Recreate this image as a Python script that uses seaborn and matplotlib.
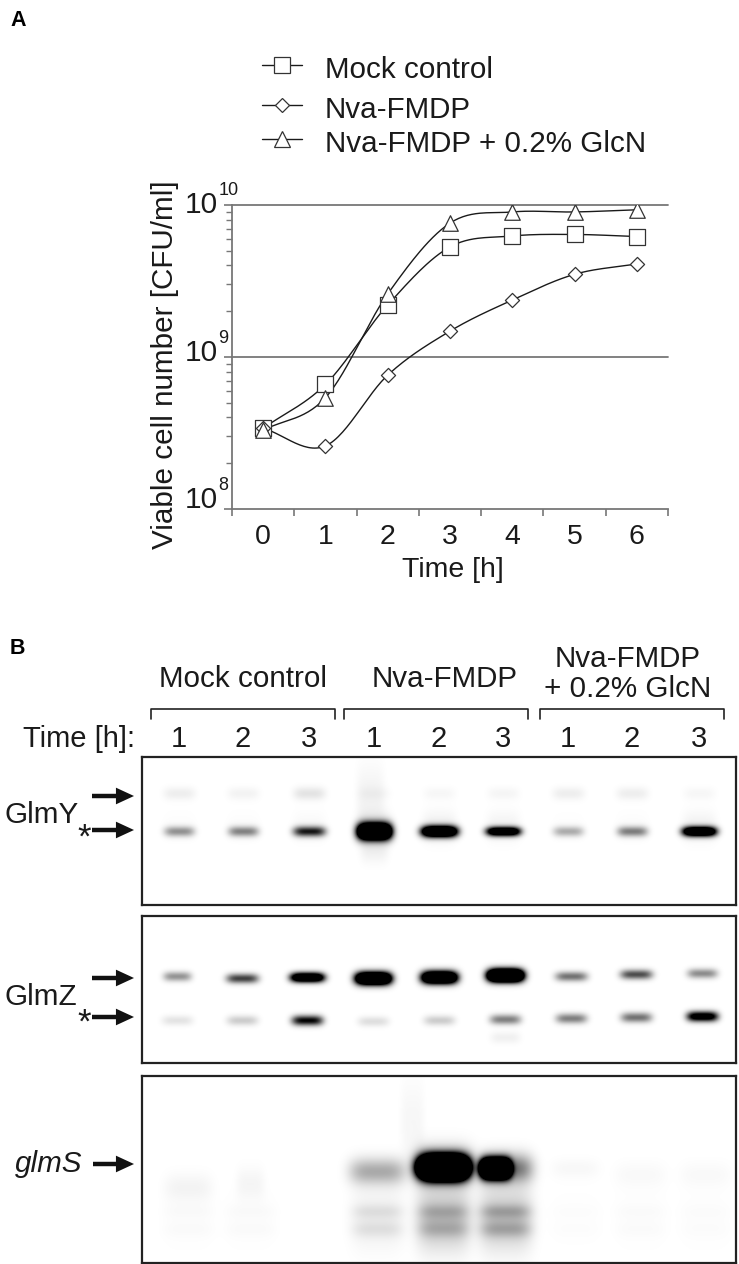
import numpy as np
import pandas as pd
import matplotlib
matplotlib.use("Agg")
import matplotlib.pyplot as plt
from matplotlib.lines import Line2D
from matplotlib.patches import FancyArrowPatch
from matplotlib.ticker import LogLocator, NullFormatter, FixedLocator
import seaborn as sns

# ---------- data: growth curves ----------
hours = [0, 1, 2, 3, 4, 5, 6]
mock_control = [3.4e8, 6.6e8, 2.2e9, 5.3e9, 6.25e9, 6.4e9, 6.2e9]
nva_fmdp = [3.4e8, 2.6e8, 7.6e8, 1.48e9, 2.37e9, 3.5e9, 4.1e9]
nva_glcn = [3.3e8, 5.4e8, 2.6e9, 7.6e9, 9.0e9, 9.0e9, 9.3e9]
series_names = ["Mock control", "Nva-FMDP", "Nva-FMDP + 0.2% GlcN"]

# ---------- data: blot band intensities per lane ----------
glmy_upper = [.07, .05, .11, .03, .035, .04, .07, .07, .035]
glmy_main = [.42, .48, .9, 3.0, 2.2, 1.7, .32, .5, 1.9]
glmz_upper = [.42, .75, 1.8, 2.6, 2.4, 3.2, .55, .7, .45]
glmz_star = [.11, .2, 1.0, .13, .2, .5, .5, .55, 1.3]
glms_main = [.045, .04, 0, .33, 5, 4, .03, .025, .025]
glms_smear = [.012, .012, 0, .07, .27, .24, .008, .012, .012]
glms_sub = [.012, .012, 0, .07, .12, .17, .006, .01, .006]

W, H = 739, 1264
sns.set_theme(style="white")
plt.rcParams["font.family"] = ["Liberation Sans", "DejaVu Sans"]
fig = plt.figure(figsize=(W / 100, H / 100), dpi=100, facecolor="white")


def fx(x):
    return x / W


def fy(y):
    return 1 - y / H


def axes_px(x0, y0, x1, y1):
    return fig.add_axes([fx(x0), fy(y1), (x1 - x0) / W, (y1 - y0) / H])


def put(x, y, s, size=21.3, **kw):
    kw.setdefault("va", "baseline")
    kw.setdefault("color", "#1a1a1a")
    fig.text(fx(x), fy(y), s, fontsize=size, **kw)


def smooth(xs, ys, n=30):
    """Catmull-Rom curve through the measured points, in log space."""
    xs = np.asarray(xs, float)
    ly = np.log10(ys)
    m = np.gradient(ly, xs)
    out_x, out_y = [], []
    for i in range(len(xs) - 1):
        t = np.linspace(0, 1, n)
        h00 = 2 * t**3 - 3 * t**2 + 1
        h10 = t**3 - 2 * t**2 + t
        h01 = -2 * t**3 + 3 * t**2
        h11 = t**3 - t**2
        out_x.append(xs[i] + t * (xs[i + 1] - xs[i]))
        out_y.append(h00 * ly[i] + h10 * m[i] + h01 * ly[i + 1] + h11 * m[i + 1])
    return np.concatenate(out_x), 10 ** np.concatenate(out_y)


# ---------- panel A ----------
GREY = "#777777"
ax = axes_px(232, 205, 668, 509)
ax.set_facecolor("none")
frames = []
for name, vals in zip(series_names, [mock_control, nva_fmdp, nva_glcn]):
    cx, cy = smooth(hours, vals)
    frames.append(pd.DataFrame({"t": cx, "v": cy, "s": name}))
curve = pd.concat(frames)
points = pd.DataFrame({"t": hours * 3,
                       "v": mock_control + nva_fmdp + nva_glcn,
                       "s": np.repeat(series_names, len(hours))})

ax.set_yscale("log")
ax.set_ylim(1e8, 1e10)
ax.set_xlim(-0.5, 6.5)
for level in [1e9, 1e10]:
    ax.axhline(level, color=GREY, lw=1.3, zorder=1, clip_on=False)
sns.lineplot(data=curve, x="t", y="v", units="s", estimator=None, color="#1a1a1a",
             lw=1.0, ax=ax, zorder=2, legend=False, sort=False)
styles = {series_names[0]: ("s", 125), series_names[1]: ("D", 52), series_names[2]: ("^", 125)}
for name in series_names:
    mk, sz = styles[name]
    sns.scatterplot(data=points[points.s == name], x="t", y="v", marker=mk, s=sz,
                    facecolor="white", edgecolor="#333333", linewidth=0.9,
                    ax=ax, zorder=3, legend=False)

ax.set_xlabel("")
ax.set_ylabel("")
for s in ["top", "right"]:
    ax.spines[s].set_visible(False)
for s in ["left", "bottom"]:
    ax.spines[s].set_color(GREY)
    ax.spines[s].set_linewidth(1.3)
ax.xaxis.set_major_locator(FixedLocator(np.arange(-0.5, 7, 1)))
ax.xaxis.set_major_formatter(NullFormatter())
ax.xaxis.set_minor_locator(FixedLocator(hours))
ax.set_xticklabels([str(h) for h in hours], minor=True, fontsize=20.5, color="#1a1a1a")
ax.tick_params(axis="x", which="major", length=5, width=1.2, color=GREY, bottom=True)
ax.tick_params(axis="x", which="minor", length=0, pad=11)
ax.yaxis.set_major_locator(FixedLocator([1e8, 1e9, 1e10]))
ax.yaxis.set_major_formatter(NullFormatter())
ax.yaxis.set_minor_locator(LogLocator(base=10, subs=range(2, 10), numticks=5))
ax.yaxis.set_minor_formatter(NullFormatter())
ax.tick_params(axis="y", which="major", length=6, width=1.2, color=GREY, left=True)
ax.tick_params(axis="y", which="minor", length=4, width=1.0, color=GREY, left=True)

for base_y, exp in [(213, "10"), (361, "9"), (508, "8")]:
    put(218, base_y, "10", ha="right", size=21.5)
    put(218.5, base_y - 18, exp, ha="left", size=13)

ax.set_ylabel("Viable cell number [CFU/ml]", fontsize=21.3, color="#1a1a1a")
ax.yaxis.set_label_coords(fx(179), fy(365), transform=fig.transFigure)
ax.set_xlabel("Time [h]", fontsize=20.5, color="#1a1a1a")
ax.xaxis.set_label_coords(fx(453), fy(557), transform=fig.transFigure)

# legend rows are unevenly spaced in the reference, so each row is placed on its own
for name, row_y in zip(series_names, [67, 107, 141]):
    fig.add_artist(Line2D([fx(262), fx(302)], [fy(row_y - 2)] * 2, color="#1a1a1a", lw=1.0,
                          transform=fig.transFigure))
    fig.add_artist(Line2D([fx(282)], [fy(row_y - 2)], marker=styles[name][0],
                          ms=np.sqrt(styles[name][1]), mfc="white", mec="#333333", mew=0.9,
                          lw=0, transform=fig.transFigure))
    put(325, row_y + 11, name)

put(10, 26, "A", size=15.5, fontweight="bold", color="black")
put(10, 654, "B", size=15.5, fontweight="bold", color="black")

# ---------- panel B: labels ----------
put(243, 687, "Mock control", ha="center")
put(445, 687, "Nva-FMDP", ha="center")
put(628, 667, "Nva-FMDP", ha="center")
put(628, 697, "+ 0.2% GlcN", ha="center")
for x0, x1 in [(151, 335), (344, 528), (540, 724)]:
    fig.add_artist(Line2D([fx(x0), fx(x0), fx(x1), fx(x1)],
                          [fy(719), fy(709), fy(709), fy(719)],
                          color="#222222", lw=1.2, transform=fig.transFigure))
put(135, 747, "Time [h]:", ha="right", size=21)
lane_px = np.array([179, 243, 309, 374, 439, 503, 568, 632, 699])
lane_labels = ["1", "2", "3"] * 3
for x, t in zip(lane_px, lane_labels):
    put(x, 747, t, ha="center", size=21)


def arrow(x0, x1, y):
    fig.add_artist(FancyArrowPatch(
        (fx(x0), fy(y)), (fx(x1), fy(y)), transform=fig.transFigure,
        arrowstyle="simple,head_width=12,head_length=13,tail_width=3.2",
        mutation_scale=1, color="#111111", lw=0, shrinkA=0, shrinkB=0))


put(5, 823, "GlmY")
put(84, 848, "*", ha="center", size=25)
arrow(92, 134, 796)
arrow(92, 134, 830)
put(5, 1005, "GlmZ")
put(84, 1033, "*", ha="center", size=25)
arrow(92, 134, 978)
arrow(92, 134, 1017)
put(15, 1172, "glmS", style="italic")
arrow(93, 134, 1164)


# ---------- panel B: blots ----------
def band(shape, x0, y0, xc, yc, wx, wy, amp):
    yy, xx = np.mgrid[0:shape[0], 0:shape[1]]
    return amp * np.exp(-(((xx + x0 - xc) / wx) ** 4)) * np.exp(-(((yy + y0 - yc) / wy) ** 2))


def blot(box, spec):
    x0, y0, x1, y1 = box
    shape = (y1 - y0, x1 - x0)
    img = np.zeros(shape)
    for xc, yc, wx, wy, amp in spec:
        img += band(shape, x0, y0, xc, yc, wx, wy, amp)
    a = axes_px(*box)
    sns.heatmap(np.clip(img, 0, 1), ax=a, cmap="gray_r", vmin=0, vmax=1, cbar=False,
                xticklabels=False, yticklabels=False, rasterized=True)
    for s in a.spines.values():
        s.set_visible(True)
        s.set_color("#222222")
        s.set_linewidth(1.6)
    return a


y_main_w = [15, 15, 16, 17, 18, 17, 15, 15, 17]
y_main_h = [5, 5, 5, 8, 5.5, 4.5, 5, 5, 4.8]
spec_y = []
for i, x in enumerate(lane_px):
    spec_y.append((x, 793, 16, 6.5, glmy_upper[i]))
    spec_y.append((x, 831, y_main_w[i], y_main_h[i], glmy_main[i]))
    spec_y.append((x, 826, 17, 15, glmy_main[i] * 0.03))
spec_y.append((370, 795, 14, 30, 0.05))
spec_y.append((374, 850, 14, 12, 0.06))
blot((142, 757, 736, 905), spec_y)

z_px = np.array([177, 242, 307, 373, 439, 505, 571, 636, 702])
z_top_w = [14, 16, 17, 18, 18, 18, 16, 16, 15]
z_top_y = [976, 978, 977, 978, 977, 975, 976, 974, 973]
z_star_y = [1020, 1020, 1020, 1021, 1020, 1019, 1018, 1017, 1016]
spec_z = []
for i, x in enumerate(z_px):
    spec_z.append((x, z_top_y[i], z_top_w[i], 4.8 if glmz_upper[i] < 2 else 6.2, glmz_upper[i]))
    spec_z.append((x, z_star_y[i], 15.5, 5, glmz_star[i]))
spec_z.append((505, 1037, 15, 6, 0.06))
blot((142, 916, 736, 1063), spec_z)

s_px = np.array([188, 250, 309, 377, 443, 505, 575, 640, 705])
s_main_y = [1187, 1183, 1183, 1171, 1167, 1168, 1168, 1174, 1174]
s_main_w = [24, 14, 20, 28, 25, 15, 24, 26, 26]
s_main_h = [14, 16, 10, 13, 11, 9, 10, 13, 13]
spec_s = []
for i, x in enumerate(s_px):
    core_x = x - 10 if i == 5 else x
    spec_s.append((core_x, s_main_y[i], s_main_w[i], s_main_h[i], glms_main[i]))
    if i == 5:
        spec_s.append((x, 1168, 27, 14, 0.55))
    if i == 4:
        spec_s.append((x, 1165, 29, 18, 0.35))
    spec_s.append((x, 1218, 27, 30, glms_smear[i]))
    spec_s.append((x, 1211, 25, 7, glms_sub[i]))
    spec_s.append((x, 1229, 25, 8, glms_sub[i]))
spec_s.append((412, 1120, 12, 40, 0.035))
blot((142, 1076, 736, 1263), spec_s)

fig.savefig("out.png", dpi=100, facecolor="white")
